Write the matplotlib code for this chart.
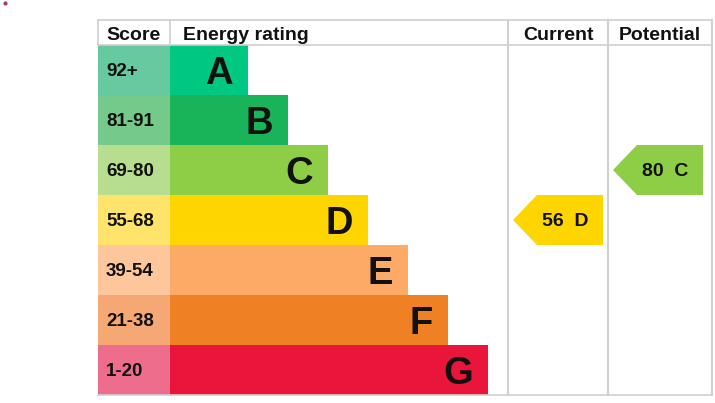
import matplotlib.pyplot as plt
from matplotlib.patches import Polygon

plt.rcParams['font.family'] = ['Liberation Sans', 'DejaVu Sans']

# data
bands = ['A', 'B', 'C', 'D', 'E', 'F', 'G']
score_ranges = ['92+', '81-91', '69-80', '55-68', '39-54', '21-38', '1-20']
band_colors = ['#00c781', '#19b459', '#8dce46', '#ffd500', '#fcaa65', '#ef8023', '#e9153b']
score_colors = ['#66c9a0', '#75c98a', '#b6de8e', '#ffe36a', '#fdc79b', '#f5a874', '#ef6d8c']
current_score, current_band = 56, 'D'
potential_score, potential_band = 80, 'C'

fig = plt.figure(figsize=(7.15, 4.03), dpi=100)
ax = fig.add_axes([0, 0, 1, 1])
ax.set_xlim(0, 715)
ax.set_ylim(403, 0)
ax.axis('off')

# layout (pixels)
top, head_h, row_h = 20, 25, 50
x_score, x_bar, x_cur, x_pot, x_end = 98, 170, 508, 608, 712
rows_y = [top + head_h + row_h * i + row_h / 2 for i in range(len(bands))]
bottom = top + head_h + row_h * len(bands)

# score column + bars
ax.barh(rows_y, [x_bar - x_score] * len(bands), left=x_score, height=row_h,
        color=score_colors, edgecolor='none')
widths = [78 + 40 * i for i in range(len(bands))]
ax.barh(rows_y, widths, left=x_bar, height=row_h, color=band_colors, edgecolor='none')

for y, w, b, s in zip(rows_y, widths, bands, score_ranges):
    ax.text(x_bar + w - 15, y + 14, b, ha='right', va='baseline', fontsize=27.5,
            fontweight='bold', color='#111111')
    ax.text(x_score + 8, y + 6.5, s, ha='left', va='baseline', fontsize=13.5,
            fontweight='bold', color='#111111')

# grid lines
gc = '#d0d0d0'
ax.plot([x_score, x_end], [top, top], color=gc, lw=1.2)
ax.plot([x_score, x_end], [top + head_h, top + head_h], color=gc, lw=1.2)
ax.plot([x_score, x_end], [bottom, bottom], color=gc, lw=1.2)
for x in [x_score, x_bar]:
    ax.plot([x, x], [top, top + head_h], color=gc, lw=1.2)
for x in [x_cur, x_pot, x_end]:
    ax.plot([x, x], [top, bottom], color=gc, lw=1.5)

# headers
hy = top + head_h / 2 + 7
for x, t, ha in [(x_score + 8, 'Score', 'left'), (x_bar + 13, 'Energy rating', 'left'),
                 ((x_cur + x_pot) / 2, 'Current', 'center'),
                 ((x_pot + x_end) / 2, 'Potential', 'center')]:
    ax.text(x, hy, t, ha=ha, va='baseline', fontsize=14, fontweight='bold', color='#111111')


def arrow(x0, score, band):
    i = bands.index(band)
    y0 = rows_y[i] - row_h / 2
    y1 = rows_y[i] + row_h / 2
    tip, body, right = x0 + 5, x0 + 29, x0 + 95
    pts = [(tip, (y0 + y1) / 2), (body, y0), (right, y0), (right, y1), (body, y1)]
    ax.add_patch(Polygon(pts, closed=True, color=band_colors[i], ec='none'))
    ax.text((tip + right) / 2 + 7, rows_y[i] + 6.5, f'{score}  {band}', ha='center',
            va='baseline', fontsize=14, fontweight='bold', color='#111111')


arrow(x_cur, current_score, current_band)
arrow(x_pot, potential_score, potential_band)

ax.plot([5], [3], marker='o', markersize=2, color='#a04050')

fig.savefig('out.png', dpi=100)
